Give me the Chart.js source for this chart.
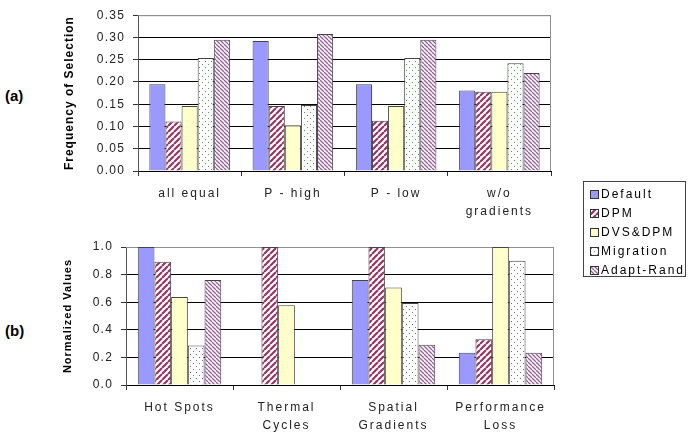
<!DOCTYPE html>
<html>
<head>
<meta charset="utf-8">
<script src="https://cdn.jsdelivr.net/npm/chart.js@4.4.1/dist/chart.umd.min.js"></script>
<style>
  body { margin: 0; background: #fff; width: 689px; height: 432px; overflow: hidden; position: relative; font-family: "Liberation Sans", Arial, sans-serif; }
  .box { position: absolute; }
  .tag { position: absolute; font-weight: bold; font-size: 15px; color: #000; }
  #legend { position: absolute; left: 583px; top: 181px; width: 103px; height: 96px; border: 1px solid #444; box-sizing: border-box; padding-top: 3px; }
  #legend .item { height: 19px; line-height: 19px; font-size: 12px; letter-spacing: 2px; color: #000; white-space: nowrap; padding-left: 6px; }
  #legend canvas { vertical-align: -1px; margin-right: 2px; }
</style>
</head>
<body>
<div class="tag" style="left:5px; top:87px;">(a)</div>
<div class="tag" style="left:5px; top:322px;">(b)</div>
<div class="box" style="left:0; top:0;"><canvas id="chartA" width="560" height="222"></canvas></div>
<div class="box" style="left:0; top:230px;"><canvas id="chartB" width="560" height="202"></canvas></div>
<div id="legend"></div>
<script>
// Series names
const seriesNames = ['Default', 'DPM', 'DVS&DPM', 'Migration', 'Adapt-Rand'];

// (a) Frequency of selection
const categoriesA = ['all equal', 'P - high', 'P - low', ['w/o', 'gradients']];
const defaultA = [0.195, 0.292, 0.195, 0.181];
const dpmA = [0.111, 0.146, 0.113, 0.178];
const dvsDpmA = [0.146, 0.103, 0.146, 0.178];
const migrationA = [0.254, 0.148, 0.254, 0.242];
const adaptRandA = [0.295, 0.308, 0.295, 0.220];
const yTicksA = [0, 0.05, 0.10, 0.15, 0.20, 0.25, 0.30, 0.35];

// (b) Normalized values
const categoriesB = ['Hot Spots', ['Thermal', 'Cycles'], ['Spatial', 'Gradients'], ['Performance', 'Loss']];
const defaultB = [1.0, 0, 0.76, 0.234];
const dpmB = [0.894, 1.0, 1.0, 0.331];
const dvsDpmB = [0.638, 0.578, 0.706, 1.0];
const migrationB = [0.287, 0, 0.595, 0.90];
const adaptRandB = [0.761, 0, 0.291, 0.234];
const yTicksB = [0, 0.2, 0.4, 0.6, 0.8, 1.0];

// Fill patterns
function makeTile(size, draw) {
    const c = document.createElement('canvas');
    c.width = size; c.height = size;
    const g = c.getContext('2d');
    g.fillStyle = '#fff';
    g.fillRect(0, 0, size, size);
    draw(g, size);
    return c;
}

function stripes(size, color, lw, up) {
    return makeTile(size, function(g, s) {
        g.strokeStyle = color;
        g.lineWidth = lw;
        g.beginPath();
        for (let k = -s; k <= s; k += s) {
            if (up) { g.moveTo(k, s); g.lineTo(k + s, 0); }
            else { g.moveTo(k, 0); g.lineTo(k + s, s); }
        }
        g.stroke();
    });
}

function dots(color) {
    return makeTile(6, function(g) {
        g.fillStyle = color;
        g.fillRect(1, 1, 1, 1);
        g.fillRect(4, 4, 1, 1);
    });
}

const tmp = document.createElement('canvas').getContext('2d');
const dpmTile = stripes(6, '#993366', 2.2, true);
const adaptTile = stripes(4, '#9a5c9a', 1.3, false);
const migTileA = dots('#55a055');
const migTileB = dots('#777777');

function fills(migTile) {
    return [
        '#9999ff',
        tmp.createPattern(dpmTile, 'repeat'),
        '#ffffcc',
        tmp.createPattern(migTile, 'repeat'),
        tmp.createPattern(adaptTile, 'repeat')
    ];
}

// Wider letter spacing like the original rendering
function spaceText(ctx) {
    const origFill = ctx.fillText;
    const origMeasure = ctx.measureText;
    function pick(c, t) {
        if (c.font.indexOf('bold') >= 0) return '1px';
        if (/^[\d.]+$/.test(String(t))) return '1.2px';
        return '2px';
    }
    ctx.fillText = function(t, x, y, m) {
        this.letterSpacing = pick(this, t);
        return m === undefined ? origFill.call(this, t, x, y) : origFill.call(this, t, x, y, m);
    };
    ctx.measureText = function(t) {
        this.letterSpacing = pick(this, t);
        return origMeasure.call(this, t);
    };
}

const frame = {
    id: 'frame',
    beforeDatasetsDraw(chart) {
        const a = chart.chartArea;
        const ctx = chart.ctx;
        ctx.save();
        ctx.strokeStyle = '#909090';
        ctx.lineWidth = 1;
        ctx.beginPath();
        ctx.moveTo(a.left, a.top + 0.5);
        ctx.lineTo(a.right - 0.5, a.top + 0.5);
        ctx.lineTo(a.right - 0.5, a.bottom);
        ctx.stroke();
        ctx.restore();
    }
};

function buildChart(id, cats, values, yTicks, decimals, title, titleSize, pad, yWidth, xHeight, migTile) {
    const canvas = document.getElementById(id);
    const ctx = canvas.getContext('2d');
    spaceText(ctx);
    const f = fills(migTile);
    const datasets = seriesNames.map((name, i) => ({
        label: name,
        data: values[i],
        backgroundColor: f[i],
        borderColor: '#444',
        borderWidth: 1,
        borderSkipped: 'start',
        categoryPercentage: 0.78,
        barPercentage: 1.0
    }));
    const yMax = yTicks[yTicks.length - 1];
    return new Chart(ctx, {
        type: 'bar',
        data: { labels: cats, datasets: datasets },
        options: {
            responsive: false,
            devicePixelRatio: 1,
            animation: false,
            layout: { padding: pad },
            plugins: { legend: { display: false }, tooltip: { enabled: false } },
            scales: {
                x: {
                    grid: { drawOnChartArea: false, drawTicks: true, tickLength: 5, color: '#333' },
                    border: { display: true, color: '#000' },
                    ticks: {
                        color: '#222',
                        padding: 9,
                        maxRotation: 0,
                        autoSkip: false,
                        font: { family: 'Liberation Sans', size: 12, lineHeight: 1.5 }
                    },
                    afterFit(scale) { scale.height = xHeight; }
                },
                y: {
                    min: 0,
                    max: yMax,
                    afterBuildTicks(scale) { scale.ticks = yTicks.map(v => ({ value: v })); },
                    grid: {
                        color: (c) => (c.tick && c.tick.value === yMax) ? '#909090' : '#000',
                        tickColor: '#333',
                        tickLength: 5,
                        lineWidth: 1
                    },
                    border: { display: true, color: '#555' },
                    ticks: {
                        color: '#222',
                        padding: 8,
                        font: { family: 'Liberation Sans', size: 12 },
                        callback: (v) => Number(v).toFixed(decimals)
                    },
                    title: {
                        display: true,
                        text: title,
                        color: '#000',
                        padding: { top: 0, bottom: 0 },
                        font: { family: 'Liberation Sans', size: titleSize, weight: 'bold' }
                    },
                    afterFit(scale) { scale.width = yWidth; }
                }
            }
        },
        plugins: [frame]
    });
}

buildChart('chartA', categoriesA, [defaultA, dpmA, dvsDpmA, migrationA, adaptRandA], yTicksA, 2,
    'Frequency of Selection', 12, { left: 62, right: 9, top: 8, bottom: 0 }, 76, 51, migTileA);
buildChart('chartB', categoriesB, [defaultB, dpmB, dvsDpmB, migrationB, adaptRandB], yTicksB, 1,
    'Normalized Values', 11, { left: 61, right: 6, top: 17, bottom: 0 }, 65, 47, migTileB);

// Shared legend
const legend = document.getElementById('legend');
const legendFills = fills(migTileA);
seriesNames.forEach((name, i) => {
    const row = document.createElement('div');
    row.className = 'item';
    const sw = document.createElement('canvas');
    sw.width = 9; sw.height = 9;
    const g = sw.getContext('2d');
    g.fillStyle = legendFills[i];
    g.fillRect(0, 0, 9, 9);
    g.strokeStyle = '#333';
    g.strokeRect(0.5, 0.5, 8, 8);
    row.appendChild(sw);
    row.appendChild(document.createTextNode(name));
    legend.appendChild(row);
});
</script>
</body>
</html>
